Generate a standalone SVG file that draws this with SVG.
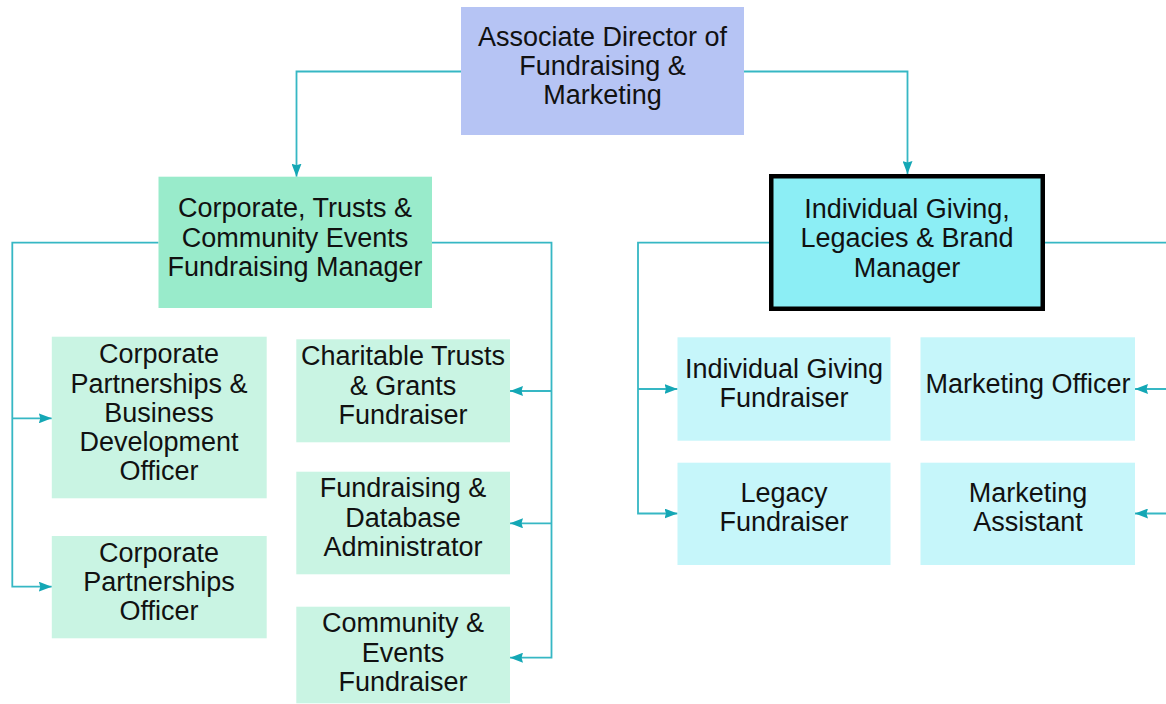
<svg xmlns="http://www.w3.org/2000/svg" width="1166" height="704" viewBox="0 0 1166 704">
  <style>
    .lbl { font-family: "Liberation Sans", Arial, sans-serif; font-size: 27px; fill: #111; text-anchor: middle; }
    .link { fill: none; stroke: #36b7c4; stroke-width: 1.8; }
    .director { fill: #b6c4f4; }
    .mgr-corp { fill: #99ebcb; }
    .staff-corp { fill: #c9f4e3; }
    .mgr-ind { fill: #8ceef5; stroke: #000; stroke-width: 4.5; }
    .staff-ind { fill: #c6f6fa; }
  </style>
  <defs>
    <marker id="arrow" viewBox="0 0 13 10" refX="13" refY="5" markerWidth="13" markerHeight="10" markerUnits="userSpaceOnUse" orient="auto">
      <path d="M0,0 L13,5 L0,10 L1.5,5 Z" fill="#14a7b5"/>
    </marker>
  </defs>
  <rect width="1166" height="704" fill="#fff"/>

  <!-- connectors -->
  <g id="connectors" class="link">
    <path d="M461,71.5 H296.5 V176.7" marker-end="url(#arrow)"/>
    <path d="M744,71.5 H907.5 V174" marker-end="url(#arrow)"/>
    <!-- corporate manager to its staff -->
    <path d="M158.5,242.7 H12.3 V586.7 H51.8"  marker-end="url(#arrow)"/>
    <path d="M12.3,418.3 H51.8" marker-end="url(#arrow)"/>
    <path d="M432,242.7 H551.5 V657.7 H510" marker-end="url(#arrow)"/>
    <path d="M551.5,391 H510" marker-end="url(#arrow)"/>
    <path d="M551.5,523.3 H510" marker-end="url(#arrow)"/>
    <!-- individual giving manager to its staff -->
    <path d="M769,242.7 H638 V513.5 H677.5" marker-end="url(#arrow)"/>
    <path d="M638,389 H677.5" marker-end="url(#arrow)"/>
    <path d="M1045,242.7 H1172"/>
    <path d="M1172,389 H1135" marker-end="url(#arrow)"/>
    <path d="M1172,513.5 H1135" marker-end="url(#arrow)"/>
  </g>

  <g id="node-director">
    <rect class="director" x="461" y="7" width="283" height="128"/>
    <text class="lbl" x="602.5" y="46">Associate Director of</text>
    <text class="lbl" x="602.5" y="75">Fundraising &amp;</text>
    <text class="lbl" x="602.5" y="104">Marketing</text>
  </g>

  <g id="node-corporate-manager">
    <rect class="mgr-corp" x="158.5" y="176.7" width="273.5" height="131.3"/>
    <text class="lbl" x="295" y="217">Corporate, Trusts &amp;</text>
    <text class="lbl" x="295" y="246.5">Community Events</text>
    <text class="lbl" x="295" y="276">Fundraising Manager</text>
  </g>

  <g id="node-individual-manager">
    <rect class="mgr-ind" x="771.25" y="176.25" width="271.5" height="132.5"/>
    <text class="lbl" x="907" y="218">Individual Giving,</text>
    <text class="lbl" x="907" y="247.3">Legacies &amp; Brand</text>
    <text class="lbl" x="907" y="276.7">Manager</text>
  </g>

  <g id="node-corp-bd-officer">
    <rect class="staff-corp" x="51.8" y="336.7" width="214.9" height="161.6"/>
    <text class="lbl" x="159" y="363.3">Corporate</text>
    <text class="lbl" x="159" y="392.5">Partnerships &amp;</text>
    <text class="lbl" x="159" y="421.7">Business</text>
    <text class="lbl" x="159" y="450.7">Development</text>
    <text class="lbl" x="159" y="479.5">Officer</text>
  </g>

  <g id="node-corp-officer">
    <rect class="staff-corp" x="51.8" y="536" width="214.9" height="102.3"/>
    <text class="lbl" x="159" y="561.7">Corporate</text>
    <text class="lbl" x="159" y="590.7">Partnerships</text>
    <text class="lbl" x="159" y="620">Officer</text>
  </g>

  <g id="node-trusts-fundraiser">
    <rect class="staff-corp" x="296.3" y="339.3" width="213.7" height="103"/>
    <text class="lbl" x="403" y="365">Charitable Trusts</text>
    <text class="lbl" x="403" y="394.5">&amp; Grants</text>
    <text class="lbl" x="403" y="424">Fundraiser</text>
  </g>

  <g id="node-database-admin">
    <rect class="staff-corp" x="296.3" y="471.7" width="213.7" height="102.6"/>
    <text class="lbl" x="403" y="497.3">Fundraising &amp;</text>
    <text class="lbl" x="403" y="526.7">Database</text>
    <text class="lbl" x="403" y="556.3">Administrator</text>
  </g>

  <g id="node-community-fundraiser">
    <rect class="staff-corp" x="296.3" y="606.7" width="213.7" height="96.6"/>
    <text class="lbl" x="403" y="632.3">Community &amp;</text>
    <text class="lbl" x="403" y="661.7">Events</text>
    <text class="lbl" x="403" y="691">Fundraiser</text>
  </g>

  <g id="node-ig-fundraiser">
    <rect class="staff-ind" x="677.5" y="337.3" width="213" height="103.4"/>
    <text class="lbl" x="784" y="377.7">Individual Giving</text>
    <text class="lbl" x="784" y="406.7">Fundraiser</text>
  </g>

  <g id="node-legacy-fundraiser">
    <rect class="staff-ind" x="677.5" y="462.7" width="213" height="102.3"/>
    <text class="lbl" x="784" y="501.7">Legacy</text>
    <text class="lbl" x="784" y="531">Fundraiser</text>
  </g>

  <g id="node-marketing-officer">
    <rect class="staff-ind" x="920.5" y="337.3" width="214.5" height="103.4"/>
    <text class="lbl" x="1028" y="392.7">Marketing Officer</text>
  </g>

  <g id="node-marketing-assistant">
    <rect class="staff-ind" x="920.5" y="462.7" width="214.5" height="102.3"/>
    <text class="lbl" x="1028" y="501.7">Marketing</text>
    <text class="lbl" x="1028" y="531">Assistant</text>
  </g>
</svg>
